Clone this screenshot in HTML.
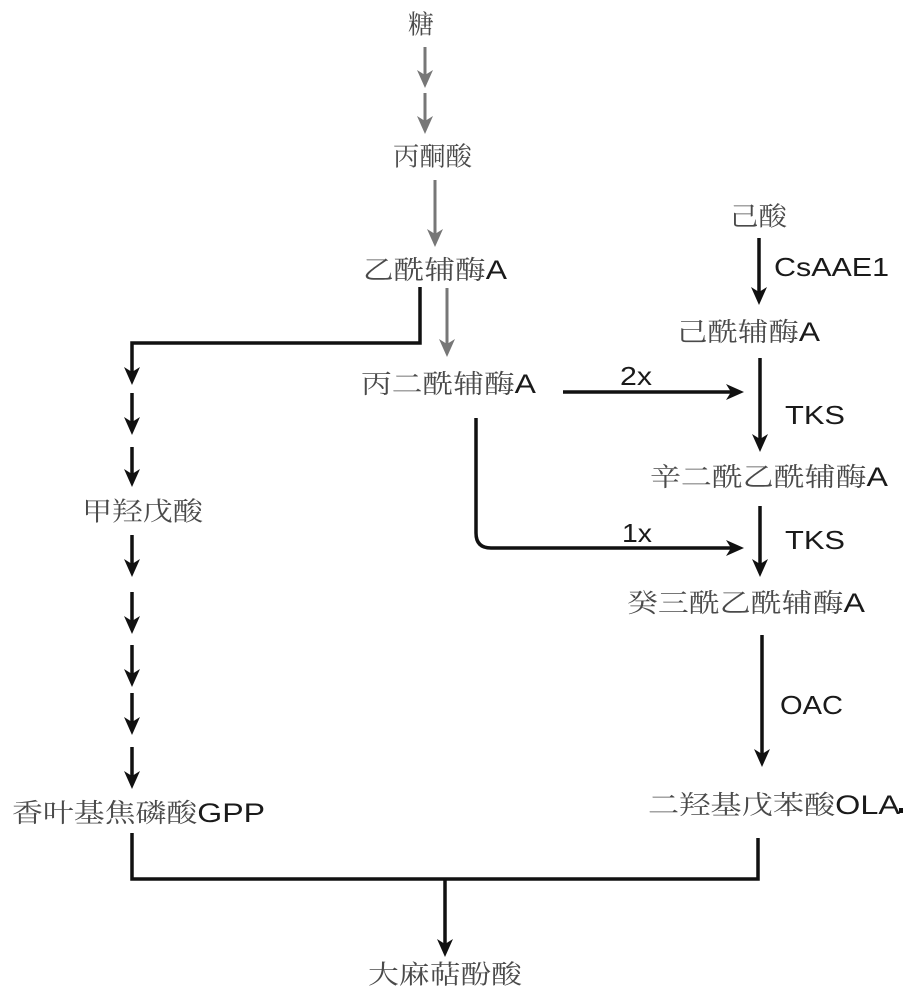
<!DOCTYPE html>
<html><head><meta charset="utf-8"><style>
html,body{margin:0;padding:0;background:#fff;}
svg{display:block}
.cn{font-family:"Liberation Serif","Noto Serif CJK SC","Noto Sans CJK SC",serif;fill:#4a4a4a;font-size:26px}
.en{font-family:"Liberation Sans",sans-serif;fill:#1a1a1a;font-size:26px}
.ea{font-family:"Liberation Sans",sans-serif;fill:#1a1a1a}
</style></head><body>
<svg width="912" height="1000" viewBox="0 0 912 1000" xmlns="http://www.w3.org/2000/svg">
<defs>
<path id="hd" d="M-8,-18 L0,0 L8,-18 L0,-13 Z"/>
</defs>
<g fill="none">
<g stroke="#777" stroke-width="3">
<line x1="425" y1="47" x2="425" y2="80"/>
<line x1="425" y1="93" x2="425" y2="126"/>
<line x1="435" y1="180" x2="435" y2="238"/>
<line x1="447" y1="288" x2="447" y2="348"/>
</g>
<g stroke="#111" stroke-width="3.5">
<polyline points="420,287 420,343 132,343 132,375"/>
<line x1="132" y1="393" x2="132" y2="425"/>
<line x1="132" y1="447" x2="132" y2="478"/>
<line x1="132" y1="535" x2="132" y2="568"/>
<line x1="132" y1="592" x2="132" y2="625"/>
<line x1="132" y1="645" x2="132" y2="678"/>
<line x1="132" y1="693" x2="132" y2="726"/>
<line x1="132" y1="747" x2="132" y2="780"/>
<line x1="759" y1="238" x2="759" y2="296"/>
<line x1="760" y1="358" x2="760" y2="443"/>
<line x1="563" y1="392" x2="735" y2="392"/>
<path d="M476,418 L476,533 Q476,548 491,548 L735,548"/>
<line x1="760" y1="506" x2="760" y2="568"/>
<line x1="762" y1="635" x2="762" y2="758"/>
<polyline points="132,833 132,879 758,879 758,838"/>
<line x1="445" y1="879" x2="445" y2="948"/>
</g>
</g>
<g fill="#777">
<use href="#hd" transform="translate(425,88)"/>
<use href="#hd" transform="translate(425,134)"/>
<use href="#hd" transform="translate(435,247)"/>
<use href="#hd" transform="translate(447,357)"/>
</g>
<g fill="#111">
<use href="#hd" transform="translate(132,385)"/>
<use href="#hd" transform="translate(132,435)"/>
<use href="#hd" transform="translate(132,487)"/>
<use href="#hd" transform="translate(132,577)"/>
<use href="#hd" transform="translate(132,634)"/>
<use href="#hd" transform="translate(132,687)"/>
<use href="#hd" transform="translate(132,735)"/>
<use href="#hd" transform="translate(132,789)"/>
<use href="#hd" transform="translate(759,305)"/>
<use href="#hd" transform="translate(760,452)"/>
<use href="#hd" transform="translate(760,577)"/>
<use href="#hd" transform="translate(762,767)"/>
<use href="#hd" transform="translate(445,957)"/>
<use href="#hd" transform="translate(744,392) rotate(-90)"/>
<use href="#hd" transform="translate(744,548) rotate(-90)"/>
</g>
<g dominant-baseline="central">
<text class="cn" x="408" y="25" textLength="26" lengthAdjust="spacingAndGlyphs">糖</text>
<text class="cn" x="393" y="157" textLength="79" lengthAdjust="spacingAndGlyphs">丙酮酸</text>
<text x="363" y="270" textLength="144" lengthAdjust="spacingAndGlyphs"><tspan class="cn">乙酰辅酶</tspan><tspan class="ea" style="font-size:27px">A</tspan></text>
<text x="361" y="384" textLength="175" lengthAdjust="spacingAndGlyphs"><tspan class="cn">丙二酰辅酶</tspan><tspan class="ea" style="font-size:27px">A</tspan></text>
<text class="cn" x="730" y="217" textLength="57" lengthAdjust="spacingAndGlyphs">己酸</text>
<text class="en" x="774" y="267" textLength="115" lengthAdjust="spacingAndGlyphs">CsAAE1</text>
<text x="677" y="332" textLength="143" lengthAdjust="spacingAndGlyphs"><tspan class="cn">己酰辅酶</tspan><tspan class="ea" style="font-size:27px">A</tspan></text>
<text class="en" x="620" y="376" textLength="32" lengthAdjust="spacingAndGlyphs">2x</text>
<text class="en" x="785" y="415" textLength="60" lengthAdjust="spacingAndGlyphs">TKS</text>
<text x="650" y="477" textLength="238" lengthAdjust="spacingAndGlyphs"><tspan class="cn">辛二酰乙酰辅酶</tspan><tspan class="ea" style="font-size:27px">A</tspan></text>
<text class="en" x="622" y="533" textLength="30" lengthAdjust="spacingAndGlyphs">1x</text>
<text class="en" x="785" y="540" textLength="60" lengthAdjust="spacingAndGlyphs">TKS</text>
<text x="627" y="603" textLength="238" lengthAdjust="spacingAndGlyphs"><tspan class="cn">癸三酰乙酰辅酶</tspan><tspan class="ea" style="font-size:27px">A</tspan></text>
<text class="en" x="780" y="705" textLength="63" lengthAdjust="spacingAndGlyphs">OAC</text>
<text x="648" y="805" textLength="252" lengthAdjust="spacingAndGlyphs"><tspan class="cn">二羟基戊苯酸</tspan><tspan class="ea" style="font-size:27px">OLA</tspan></text>
<rect x="899" y="808" width="4" height="5" fill="#111"/>
<text class="cn" x="82" y="512" textLength="121" lengthAdjust="spacingAndGlyphs">甲羟戊酸</text>
<text x="12" y="813" textLength="253" lengthAdjust="spacingAndGlyphs"><tspan class="cn">香叶基焦磷酸</tspan><tspan class="ea" style="font-size:27px">GPP</tspan></text>
<text class="cn" x="368" y="975" textLength="154" lengthAdjust="spacingAndGlyphs">大麻萜酚酸</text>
</g>
</svg>
</body></html>
